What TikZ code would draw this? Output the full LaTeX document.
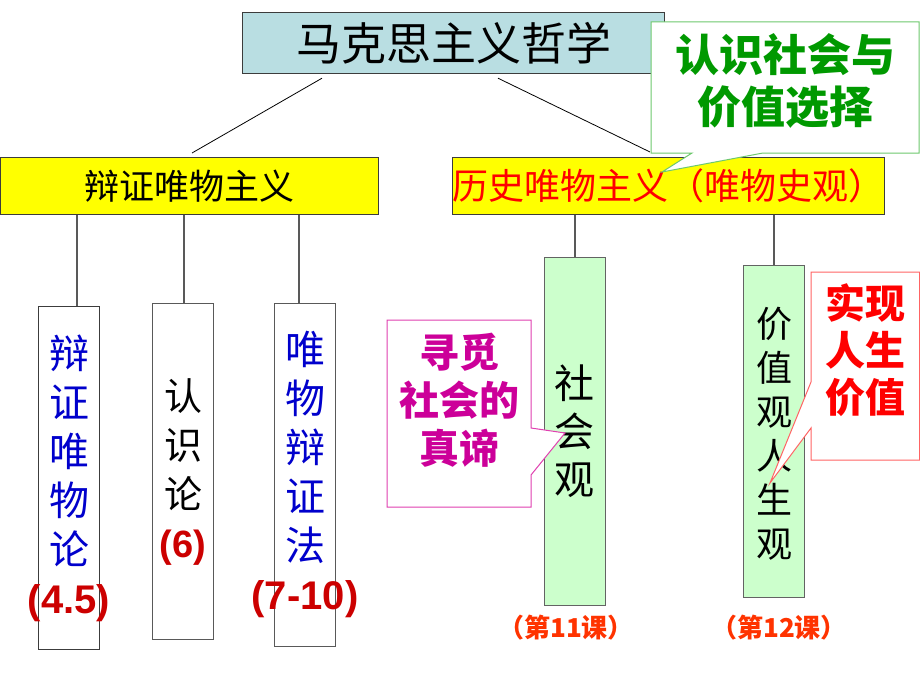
\documentclass[tikz,border=0pt]{standalone}
\usepackage{fontspec}
\setmainfont{Liberation Sans}
\newfontfamily\cjk{Noto Sans CJK SC}
\newfontfamily\arial{Liberation Sans}
\usetikzlibrary{calc}
\definecolor{topfill}{RGB}{185,222,226}
\definecolor{ylw}{RGB}{255,255,0}
\definecolor{lgreen}{RGB}{204,255,204}
\definecolor{myblue}{RGB}{0,0,204}
\definecolor{dred}{RGB}{204,0,0}
\definecolor{mag}{RGB}{204,0,153}
\definecolor{magline}{RGB}{224,64,176}
\definecolor{gtext}{RGB}{0,153,0}
\definecolor{gline}{RGB}{110,200,110}
\definecolor{rline}{RGB}{255,100,100}
\definecolor{orng}{RGB}{255,51,0}
\definecolor{edge}{RGB}{60,60,60}
\tikzset{
  x=1pt, y=-1pt,
  boxbase/.style={draw=edge, line width=1.2pt, inner sep=0pt, anchor=north west},
  topbox/.style={boxbase, fill=topfill, font=\cjk\fontsize{45}{50}\selectfont},
  ybox/.style={boxbase, fill=ylw, minimum width=378pt, minimum height=57pt, font=\cjk\fontsize{35}{40}\selectfont},
  wbox/.style={boxbase, fill=white, minimum width=61pt},
  gbox/.style={boxbase, draw=edge!80, fill=lgreen, minimum width=61pt},
  vtext/.style={align=center, inner sep=0pt},
  link/.style={draw=black, line width=0.8pt},
  vlink/.style={draw=edge!85, line width=1.4pt},
  callout/.style={fill=white, line width=1pt},
  lesson/.style={font=\cjk\bfseries\fontsize{26}{30}\selectfont, text=orng, inner sep=0pt},
}
\begin{document}
\begin{tikzpicture}
\useasboundingbox (0,0) rectangle (920,690);
\fill[white] (0,0) rectangle (920,690);

% top box
\node[topbox, minimum width=422pt, minimum height=61pt] (top) at (242,12) {马克思主义哲学};

% yellow boxes
\node[ybox] (dm) at (0,157) {辩证唯物主义};
\node[ybox, minimum width=432pt, text=red, font=\cjk\fontsize{36}{40}\selectfont] (hm) at (452,157) {历史唯物主义（唯物史观）};

% links from top
\draw[link] ($(top.south west)+(80,4)$) -- ($(dm.north west)+(192,-4)$);
\draw[link] ($(top.south west)+(256,4)$) -- ($(hm.north west)+(198,-5)$);

% left column boxes
\node[wbox, minimum height=343pt] (b1) at (38,306) {};
\node[wbox, draw=edge!85, minimum height=336pt] (b2) at (152,303) {};
\node[wbox, draw=edge!85, minimum height=343pt] (b3) at (274,303) {};

\coordinate (v1) at (77,306);
\coordinate (v2) at (184,303);
\coordinate (v3) at (299,303);
\draw[vlink] (v1 |- dm.south) -- (v1);
\draw[vlink] (v2 |- dm.south) -- (v2);
\draw[vlink] (v3 |- dm.south) -- (v3);

\node[vtext, text=myblue, font=\cjk\fontsize{40}{49}\selectfont] (t1) at (69,478)
  {辩\\证\\唯\\物\\论\\{\arial\bfseries\color{dred}(4.5)}};
\node[vtext, text=black, font=\cjk\fontsize{38}{49}\selectfont] (t2) at (183,472)
  {认\\识\\论\\{\arial\bfseries\fontsize{38}{49}\selectfont\color{dred}(6)}};
\node[vtext, text=myblue, font=\cjk\fontsize{40}{49}\selectfont] (t3) at (305,474)
  {唯\\物\\辩\\证\\法\\{\arial\bfseries\color{dred}(7-10)}};

% right column boxes
\node[gbox, minimum height=348pt] (g1) at (544,257) {};
\node[gbox, minimum height=332pt] (g2) at (743,265) {};
\coordinate (v4) at (575,257);
\coordinate (v5) at (774,265);
\draw[vlink] (v4 |- hm.south) -- (v4);
\draw[vlink] (v5 |- hm.south) -- (v5);

\node[vtext, font=\cjk\fontsize{40}{48}\selectfont] (gt1) at (574.5,431) {社\\会\\观};
\node[vtext, font=\cjk\fontsize{36}{44}\selectfont] (gt2) at (774,434) {价\\值\\观\\人\\生\\观};

\node[lesson] (l11) at (566,628) {（第11课）};
\node[lesson] (l12) at (779,628) {（第12课）};

% callouts
\draw[callout, draw=gline] (651,22) -- (919,22) -- (919,153) -- (763,153) -- (662,172) -- (692,153) -- (651,153) -- cycle;
\node[vtext, text=gtext, font=\cjk\bfseries\fontsize{44}{52}\selectfont] (c1) at (785,81) {认识社会与\\价值选择};

\draw[callout, draw=magline] (387,320) -- (531,320) -- (531,428) -- (565,433) -- (531,475) -- (531,507) -- (387,507) -- cycle;
\node[vtext, text=mag, font=\cjk\bfseries\fontsize{40}{48}\selectfont] (c2) at (459,400) {寻觅\\社会的\\真谛};

\draw[callout, draw=rline] (811,272) -- (919.5,272) -- (919.5,460) -- (811,460) -- (811,428) -- (770,483) -- (811,382) -- cycle;
\node[vtext, text=red, font=\cjk\bfseries\fontsize{40}{47}\selectfont] (c3) at (865,350) {实现\\人生\\价值};
\end{tikzpicture}
\end{document}
